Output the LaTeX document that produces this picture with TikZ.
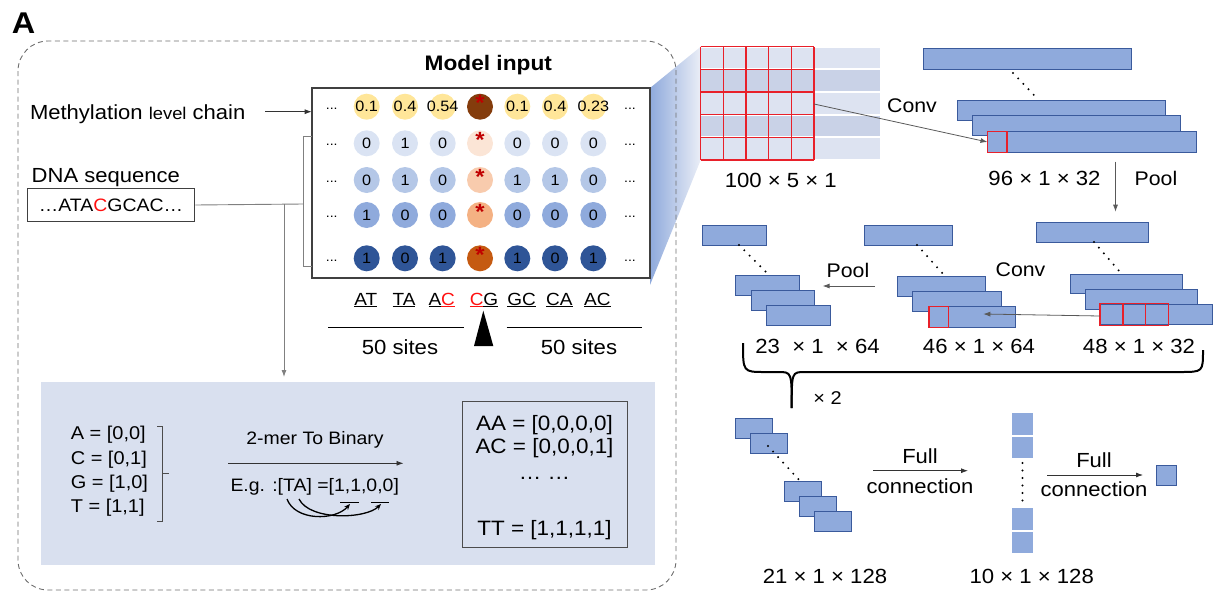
\documentclass[tikz,border=0pt]{standalone}
\usepackage{fontspec}
\setmainfont[FakeStretch=1.08]{Liberation Sans}
\usetikzlibrary{arrows.meta}
\newcommand\fsz[1]{\fontsize{#1}{#1}\selectfont}
\definecolor{barblue}{HTML}{8FAADC}
\definecolor{bordblue}{HTML}{3A5A9C}
\definecolor{ylw}{HTML}{FFE699}
\definecolor{brnA}{HTML}{843C0C}
\definecolor{blA}{HTML}{DAE3F3}
\definecolor{orA}{HTML}{FBE5D6}
\definecolor{blB}{HTML}{B4C7E7}
\definecolor{orB}{HTML}{F8CBAD}
\definecolor{blC}{HTML}{8FAADC}
\definecolor{orC}{HTML}{F4B183}
\definecolor{blD}{HTML}{2F5597}
\definecolor{orD}{HTML}{C55A11}
\definecolor{bandc}{HTML}{D9E0EF}
\definecolor{gridA}{HTML}{DDE3F1}
\definecolor{gridB}{HTML}{C9D2E7}
\definecolor{linegray}{HTML}{595959}
\definecolor{dashgray}{HTML}{6E6E6E}
\definecolor{cred}{HTML}{FF1010}
\definecolor{ared}{HTML}{C00000}
\definecolor{gred}{HTML}{E8202A}
\tikzset{
  lbl/.style={inner sep=0pt, outer sep=0pt},
  cbar/.style={draw=bordblue, fill=barblue, line width=1pt, inner sep=0pt, outer sep=0pt, anchor=north west},
  redsq/.style={draw=gred, line width=1.3pt, inner sep=0pt, outer sep=0pt, anchor=north west},
  conn/.style={draw=linegray, line width=0.8pt, -{Latex[length=7pt,width=5pt]}},
  thinline/.style={draw=black!50, line width=0.9pt},
  dotline/.style={line width=2.2pt, dash pattern=on 0pt off 7.5pt, line cap=round},
  circ/.style={circle, minimum size=26pt, inner sep=0pt},
  ctext/.style={inner sep=0pt, font=\fsz{15}},
  dimlbl/.style={font=\fsz{20.5}, inner sep=0pt},
  oplbl/.style={font=\fsz{19.7}, inner sep=0pt},
}
\newcommand\cbox[5]{\node[cbar, minimum width=#4pt, minimum height=#5pt] (#1) at (#2,#3) {};}
\begin{document}
\begin{tikzpicture}[x=1pt,y=-1pt]
\useasboundingbox (0,0) rectangle (1223,592);

% projection trapezoid
\shade[left color=barblue, right color=gridA!60!white] (650,88) -- (700.7,46.7) -- (700.7,160) -- (650,285) -- cycle;

% dashed frame
\draw[dashgray, line width=0.9pt, dash pattern=on 5pt off 3.5pt, rounded corners=30pt] (18,41) rectangle (676,590);

% panel letter
\node[lbl, font=\bfseries\fsz{30}] (lblA) at (23.5,23.5) {A};

% left inputs
\node[lbl, anchor=base west, font=\fsz{20.4}] (meth) at (30,119) {Methylation {\fsz{17}level} chain};
\node[lbl, anchor=base west, font=\fsz{20.4}] (dnalbl) at (31.7,182.7) {DNA sequence};
\node[draw=black!75, line width=1pt, minimum width=167.6pt, minimum height=32.4pt, anchor=north west, inner sep=0pt, font=\fsz{18}] (dnabox) at (26.7,188.3) {…ATA{\color{cred}C}GCAC…};

% model input box
\node[lbl, font=\bfseries\fsz{21}] (mi) at (488.3,65) {Model input};
\node[draw=black!75, line width=1.8pt, minimum width=338.3pt, minimum height=190.6pt, anchor=north west, inner sep=0pt, outer sep=0pt] (mbox) at (311.7,87.7) {};

\coordinate (methout) at (265,111.7);
\draw[conn, draw=black!80] (methout) -- (mbox.west |- methout);
\coordinate (brk) at (303.3,204);
\coordinate (brt) at (303.3,136);
\coordinate (brb) at (303.3,266);
\draw[thinline] (brt -| mbox.west) -- (brt) -- (brb) -- (brb -| mbox.west);
\draw[thinline] (dnabox.east) -- (brk);
\coordinate (dsplit) at (284,204);
\coordinate (dend) at (284,377);
\draw[thinline, -{Latex[length=7pt,width=5pt]}] (dsplit) -- (dend);

% circles
\foreach \r/\yy/\fc/\cc/\va/\vb/\vc/\vd/\ve/\vf in {
  1/106.7/ylw/brnA/0.1/0.4/0.54/0.1/0.4/0.23,
  2/143.3/blA/orA/0/1/0/0/0/0,
  3/180/blB/orB/0/1/0/1/1/0,
  4/215/blC/orC/1/0/0/0/0/0,
  5/258.3/blD/orD/1/0/1/1/0/1}{
  \node[circ, fill=\fc] (c\r-1) at (366.7,\yy) {};
  \node[ctext] at (c\r-1) {\va};
  \node[circ, fill=\fc] (c\r-2) at (405,\yy) {};
  \node[ctext] at (c\r-2) {\vb};
  \node[circ, fill=\fc] (c\r-3) at (442.7,\yy) {};
  \node[ctext] at (c\r-3) {\vc};
  \node[circ, fill=\cc] (c\r-4) at (480,\yy) {};
  \node[lbl, text=ared, font=\bfseries\fsz{22}] at (480,\yy-3.5) {*};
  \node[circ, fill=\fc] (c\r-5) at (517.3,\yy) {};
  \node[ctext] at (c\r-5) {\vd};
  \node[circ, fill=\fc] (c\r-6) at (555,\yy) {};
  \node[ctext] at (c\r-6) {\ve};
  \node[circ, fill=\fc] (c\r-7) at (593.3,\yy) {};
  \node[ctext] at (c\r-7) {\vf};
  \node[lbl, font=\fsz{13}] (dl\r) at (331.7,\yy+2) {...};
  \node[lbl, font=\fsz{13}] (dr\r) at (630,\yy+2) {...};
}

% dinucleotides
\foreach \xx/\tt [count=\i] in {365.7/\underline{AT}, 404/\underline{TA}, 441.7/\underline{A}{\color{cred}\underline{C}}, 484/{\color{cred}\underline{C}}\underline{G}, 521.7/\underline{GC}, 559.3/\underline{CA}, 597.3/\underline{AC}}{
  \node[lbl, anchor=base, font=\fsz{17.6}] (dn\i) at (\xx,305) {\tt};
}
\draw[line width=1.3pt] (328.3,327.3) -- (464,327.3);
\draw[line width=1.3pt] (506.7,327.3) -- (641.7,327.3);
\fill (483.3,310.7) -- (493.3,346) -- (474,346) -- cycle;
\node[lbl, font=\fsz{20.5}] (s50a) at (400,346.7) {50 sites};
\node[lbl, font=\fsz{20.5}] (s50b) at (579,346.7) {50 sites};

% lower band
\fill[bandc] (41,381.7) rectangle (654.5,565);
\node[lbl, anchor=west, font=\fsz{18.5}] (eA) at (70.8,435) {A = [0,0]};
\node[lbl, anchor=west, font=\fsz{18.5}] (eC) at (70.8,459.3) {C = [0,1]};
\node[lbl, anchor=west, font=\fsz{18.5}] (eG) at (70.8,483.3) {G = [1,0]};
\node[lbl, anchor=west, font=\fsz{18.5}] (eT) at (70.8,508) {T = [1,1]};
\draw[black!70, line width=0.8pt] (157,426) -- (162.7,426) -- (162.7,521.7) -- (157,521.7);
\draw[black!70, line width=0.8pt] (162.7,473.3) -- (169,473.3);
\node[lbl, font=\fsz{18}] (kmer) at (315,440) {2-mer To Binary};
\coordinate (ka) at (228,463.3);
\coordinate (kb) at (403.5,463.3);
\draw[conn, draw=black!80] (ka) -- (kb);
\node[lbl, font=\fsz{18}] (eg) at (314.7,487.3) {E.g. :[TA] =[1,1,0,0]};
\draw[line width=1.2pt] (340,502.7) -- (358.6,502.7);
\draw[line width=1.2pt] (370.8,502.7) -- (389.2,502.7);
\coordinate (cT) at (287,499);
\coordinate (cA) at (299,499);
\coordinate (u1) at (350,504);
\coordinate (u2) at (381,504);
\draw[line width=1.3pt, -{Stealth[length=6pt,width=5pt]}] (cT) .. controls (295,521) and (335,521) .. (u1);
\draw[line width=1.3pt, -{Stealth[length=6pt,width=5pt]}] (cA) .. controls (310,521) and (366,519) .. (u2);
\node[draw=black!70, line width=1pt, minimum width=165.3pt, minimum height=146pt, anchor=north west, inner sep=0pt] (tbl) at (461.8,400.7) {};
\node[lbl, font=\fsz{20.8}] (tAA) at (544.5,425) {AA = [0,0,0,0]};
\node[lbl, font=\fsz{20.8}] (tAC) at (544.5,448.3) {AC = [0,0,0,1]};
\node[lbl, font=\fsz{20.8}] (tdd) at (544.5,478) {… …};
\node[lbl, font=\fsz{20.8}] (tTT) at (544.5,530) {TT = [1,1,1,1]};

% input grid 100x5x1
\foreach \i/\gc in {0/gridA,1/gridB,2/gridA,3/gridB,4/gridA}{
  \fill[\gc] (700.7,46.7+\i*22.66+0.9) rectangle (880,46.7+\i*22.66+22.66-0.9);
}
\foreach \i in {0,...,5}{
  \draw[gred, line width=1.2pt] (700.7+\i*22.66,46.7) -- (700.7+\i*22.66,160);
  \draw[gred, line width=1.2pt] (700.7,46.7+\i*22.66) -- (814,46.7+\i*22.66);
}
\coordinate (gridout) at (814,104);
\node[dimlbl] (d100) at (780.8,180) {100 × 5 × 1};

% 96x1x32 stack
\cbox{ta}{923.3}{48.3}{208.4}{21}
\cbox{tb}{957.5}{100.7}{208}{20}
\cbox{tc}{972.3}{115.5}{208.5}{20}
\cbox{td}{987.5}{131.7}{208.8}{20.6}
\node[redsq, minimum width=19.5pt, minimum height=20.6pt] (tdr) at (987.5,131.7) {};
\draw[dotline] (1013,73) -- (1038.6,100);
\node[oplbl] (conv1) at (912,106) {Conv};
\draw[conn] (gridout) -- (tdr.west);
\node[dimlbl] (d96) at (1044.5,178) {96 × 1 × 32};
\node[oplbl] (pool1) at (1156,178) {Pool};
\coordinate (pd1) at (1115.5,161.7);
\coordinate (pd2) at (1115.5,211.7);
\draw[conn] (pd1) -- (pd2);

% 48x1x32 stack
\cbox{sa}{1036.7}{222.7}{112}{19.6}
\cbox{sb}{1070}{274}{112}{19.6}
\cbox{sc}{1085}{289.3}{112.5}{20}
\cbox{sd}{1100}{304.3}{112.8}{20.5}
\foreach \i in {0,1,2}{
  \node[redsq, minimum width=22.9pt, minimum height=22pt] (sdr\i) at (1100+\i*22.9,303.5) {};
}
\draw[dotline] (1094,242) -- (1121.7,274);
\node[dimlbl] (d48) at (1139,346.7) {48 × 1 × 32};

% 46x1x64 stack
\cbox{ma}{864}{225}{88.4}{20}
\cbox{mb}{897.3}{276.7}{88.4}{20}
\cbox{mc}{912.6}{291.7}{88.4}{20}
\cbox{md}{928}{306.7}{87.6}{20.6}
\node[redsq, minimum width=19.3pt, minimum height=20.6pt] (mdr) at (929,306.7) {};
\draw[dotline] (917,245) -- (945.6,276.7);
\node[dimlbl] (d46) at (979,346.7) {46 × 1 × 64};
\node[oplbl] (conv2) at (1020.5,270) {Conv};
\coordinate (mc2) at (983.3,314);
\draw[conn] (sdr0.west |- 0,316) -- (mc2);

% 23x1x64 stack
\cbox{la}{702.2}{225}{64.3}{20}
\cbox{lb}{735.9}{275}{64}{20}
\cbox{lc}{751.2}{290}{63.5}{20}
\cbox{ld}{766.5}{305}{63.5}{20}
\draw[dotline] (739,245) -- (768.9,275);
\node[dimlbl] (d23) at (817.5,346.7) {23\ \ × 1\ \ × 64};
\node[oplbl] (pool2) at (848,270) {Pool};
\coordinate (pl1) at (875.2,286);
\coordinate (pl2) at (822.6,286);
\draw[conn] (pl1) -- (pl2);

% brace x2
\draw[line width=2pt] (743,343) .. controls (743,372) .. (765,372) -- (778,372) .. controls (791.7,372) .. (791.7,408);
\draw[line width=2pt] (791.7,408) .. controls (791.7,372) .. (805,372) -- (1180,372) .. controls (1203,372) .. (1203,350);
\node[lbl, font=\fsz{18.5}] (x2) at (827.5,398) {× 2};

% 21x1x128 stack
\cbox{fa}{735.7}{418.3}{36.6}{20}
\cbox{fb}{750.7}{433.3}{37}{20}
\cbox{fc}{784}{481}{37}{20}
\cbox{fd}{799}{496}{37}{20}
\cbox{fe}{814}{511}{37}{20.7}
\draw[dotline] (768,446) -- (800,481);
\node[dimlbl] (d21) at (825,576.7) {21 × 1 × 128};

% full connection 1
\coordinate (fa1) at (873,470.7);
\coordinate (fa2) at (968,470.7);
\draw[conn, draw=black!80] (fa1) -- (fa2);
\node[lbl, font=\fsz{20.4}] (full1) at (920,456.7) {Full};
\node[lbl, font=\fsz{20.4}] (cn1) at (920,486) {connection};

% 10x1x128 vector
\fill[barblue] (1012,413) rectangle (1033,434.7);
\fill[barblue] (1012,436.7) rectangle (1033,458.3);
\fill[barblue] (1012,507.7) rectangle (1033,530);
\fill[barblue] (1012,531.7) rectangle (1033,553);
\draw[dotline] (1022.5,463) -- (1022.5,506);
\node[dimlbl] (d10) at (1031.7,576.7) {10 × 1 × 128};

% full connection 2
\coordinate (fb1) at (1047,475);
\coordinate (fb2) at (1143,475);
\draw[conn, draw=black!80] (fb1) -- (fb2);
\node[lbl, font=\fsz{20.4}] (full2) at (1094,460.7) {Full};
\node[lbl, font=\fsz{20.4}] (cn2) at (1094,489) {connection};
\cbox{outsq}{1156}{465}{20}{20}
\end{tikzpicture}
\end{document}
